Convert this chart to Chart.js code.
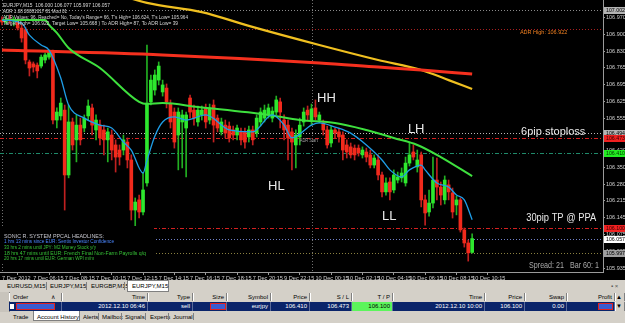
<!DOCTYPE html>
<html>
<head>
<meta charset="utf-8">
<script src="https://cdn.jsdelivr.net/npm/chart.js@4.4.1/dist/chart.umd.min.js"></script>
<style>
  body { margin: 0; width: 625px; height: 323px; overflow: hidden; background: #d4d0c8; font-family: "Liberation Sans", Arial, sans-serif; }
  #wrap { position: absolute; left: 0; top: 0; width: 625px; height: 280px; background: #000; }
  #term { position: absolute; left: 0; top: 280px; width: 625px; height: 43px; background: #d4d0c8; font-size: 6px; color: #000; }
  .t { position: absolute; white-space: nowrap; line-height: 8px; }
  .sep { position: absolute; width: 1px; background: #808080; }
  .tab { position: absolute; background: #fff; border: 1px solid #808080; }
  .hdr { position: absolute; top: 13px; height: 8px; background: #d4d0c8; border-right: 1px solid #808080; border-left: 1px solid #fff; box-sizing: border-box; }
  .cell { position: absolute; top: 22px; height: 9px; background: #0a246a; border-right: 1px solid #5a6a9a; box-sizing: border-box; color: #fff; }
  .cell span { position: absolute; right: 2px; top: 1px; line-height: 7px; }
  .hdr span { position: absolute; right: 2px; top: 0; line-height: 8px; }
  .redact { position: absolute; background: #3b5bd0; border: 1px solid #e02020; box-sizing: border-box; }
</style>
</head>
<body>
<div id="wrap"><canvas id="c" width="625" height="280"></canvas></div>
<div id="term">
  <div class="t" style="left:7px;top:2px;">EURUSD,M15</div>
  <div class="sep" style="left:46px;top:2px;height:8px;"></div>
  <div class="t" style="left:50px;top:2px;">EURJPY,M15</div>
  <div class="sep" style="left:86px;top:2px;height:8px;"></div>
  <div class="t" style="left:91px;top:2px;">EURGBP,M15</div>
  <div class="sep" style="left:124px;top:2px;height:8px;"></div>
  <div class="tab" style="left:127px;top:0;width:40px;height:10px;"></div>
  <div class="t" style="left:132px;top:2px;">EURJPY,M15</div>
  <div class="t" style="left:611px;top:2px;color:#555;">&#x25aa; &#xd7;</div>

  <div style="position:absolute;left:0;top:12px;width:9px;height:20px;background:#c8c4bc;border-right:1px solid #808080;"></div>
  <div class="hdr" style="left:9px;width:53px;"><span style="left:3px;right:auto;">Order</span><span style="right:6px;">&#x2227;</span></div>
  <div class="hdr" style="left:62px;width:86px;"><span>Time</span></div>
  <div class="hdr" style="left:148px;width:45px;"><span>Type</span></div>
  <div class="hdr" style="left:193px;width:34px;"><span>Size</span></div>
  <div class="hdr" style="left:227px;width:44px;"><span>Symbol</span></div>
  <div class="hdr" style="left:271px;width:39px;"><span>Price</span></div>
  <div class="hdr" style="left:310px;width:42px;"><span>S / L</span></div>
  <div class="hdr" style="left:352px;width:41px;"><span>T / P</span></div>
  <div class="hdr" style="left:393px;width:92px;"><span>Time</span></div>
  <div class="hdr" style="left:485px;width:40px;"><span>Price</span></div>
  <div class="hdr" style="left:525px;width:42px;"><span>Swap</span></div>
  <div class="hdr" style="left:567px;width:48px;"><span>Profit</span></div>
  <div class="hdr" style="left:615px;width:10px;background:#d4d0c8;"><span style="right:2px;">&#x25b2;</span></div>

  <div class="cell" style="left:9px;width:53px;"></div>
  <div style="position:absolute;left:10px;top:24px;width:4px;height:5px;background:#fff;"></div>
  <div class="redact" style="left:16px;top:23px;width:39px;height:7px;"></div>
  <div class="cell" style="left:62px;width:86px;"><span>2012.12.10 06:46</span></div>
  <div class="cell" style="left:148px;width:45px;"><span>sell</span></div>
  <div class="cell" style="left:193px;width:34px;"></div>
  <div class="redact" style="left:210px;top:23px;width:16px;height:7px;"></div>
  <div class="cell" style="left:227px;width:44px;"><span>eurjpy</span></div>
  <div class="cell" style="left:271px;width:39px;"><span>106.410</span></div>
  <div class="cell" style="left:310px;width:42px;"><span>106.473</span></div>
  <div class="cell" style="left:352px;width:41px;background:#5cf55c;color:#000;"><span>106.100</span></div>
  <div class="cell" style="left:393px;width:92px;"><span>2012.12.10 10:00</span></div>
  <div class="cell" style="left:485px;width:40px;"><span>106.100</span></div>
  <div class="cell" style="left:525px;width:42px;"><span>0.00</span></div>
  <div class="cell" style="left:567px;width:48px;"></div>
  <div class="redact" style="left:598px;top:23px;width:15px;height:7px;"></div>
  <div class="hdr" style="left:615px;top:22px;width:10px;height:9px;"><span style="right:2px;">&#x25bc;</span></div>

  <div class="t" style="left:13px;top:33px;">Trade</div>
  <div class="tab" style="left:33px;top:31px;width:45px;height:9px;border-top:none;"></div>
  <div class="t" style="left:37px;top:33px;">Account History</div>
  <div class="t" style="left:83px;top:33px;">Alerts</div>
  <div class="sep" style="left:98px;top:33px;height:7px;"></div>
  <div class="t" style="left:102px;top:33px;">Mailbox</div>
  <div class="sep" style="left:121px;top:33px;height:7px;"></div>
  <div class="t" style="left:125px;top:33px;">Signals</div>
  <div class="sep" style="left:145px;top:33px;height:7px;"></div>
  <div class="t" style="left:150px;top:33px;">Experts</div>
  <div class="sep" style="left:168px;top:33px;height:7px;"></div>
  <div class="t" style="left:173px;top:33px;">Journal</div>
  <div class="sep" style="left:193px;top:33px;height:7px;"></div>
</div>

<script>
// EURJPY M15 bars, oldest first
const openP = [106.960,106.952,106.964,106.956,106.952,106.927,106.919,106.787,106.779,106.774,
  106.770,106.795,106.807,106.828,106.547,106.564,106.588,106.320,106.539,106.465,
  106.526,106.514,106.564,106.597,106.506,106.526,106.506,106.465,106.485,106.444,
  106.423,106.423,106.456,106.382,106.175,106.217,106.167,106.287,106.622,106.671,
  106.712,106.663,106.679,106.613,106.580,106.485,106.539,106.514,106.638,106.588,
  106.539,106.568,106.597,106.547,106.609,106.555,106.498,106.526,106.522,106.506,
  106.485,106.498,106.498,106.477,106.506,106.493,106.539,106.555,106.568,106.555,
  106.580,106.622,106.547,106.526,106.498,106.444,106.477,106.539,106.588,106.547,
  106.597,106.547,106.535,106.506,106.452,106.506,106.498,106.485,106.444,106.436,
  106.431,106.431,106.403,106.415,106.403,106.361,106.382,106.320,106.250,106.291,
  106.258,106.299,106.308,106.287,106.369,106.415,106.353,106.403,106.217,106.167,
  106.204,106.299,106.270,106.217,106.279,106.246,106.196,106.217,106.093,106.039,
  106.000];
const highP = [106.973,106.977,106.981,106.973,106.964,106.940,106.931,106.795,106.787,106.783,
  106.816,106.824,106.836,106.836,106.597,106.638,106.609,106.609,106.555,106.568,
  106.555,106.568,106.630,106.613,106.568,106.547,106.526,106.514,106.506,106.465,
  106.444,106.485,106.473,106.403,106.225,106.237,106.328,106.857,106.733,106.754,
  106.787,106.712,106.696,106.630,106.597,106.597,106.588,106.580,106.650,106.609,
  106.605,106.605,106.613,106.613,106.630,106.568,106.555,106.547,106.539,106.522,
  106.526,106.514,106.514,106.522,106.522,106.568,106.597,106.609,106.613,106.601,
  106.646,106.638,106.568,106.547,106.514,106.506,106.555,106.597,106.605,106.613,
  106.630,106.580,106.547,106.522,106.522,106.514,106.514,106.498,106.465,106.452,
  106.444,106.444,106.436,106.431,106.423,106.403,106.403,106.332,106.308,106.308,
  106.341,106.332,106.349,106.394,106.456,106.444,106.423,106.415,106.237,106.258,
  106.394,106.390,106.291,106.316,106.299,106.266,106.233,106.225,106.101,106.051,
  106.077];
const lowP = [106.940,106.944,106.944,106.936,106.919,106.869,106.779,106.729,106.745,106.721,
  106.762,106.783,106.799,106.531,106.514,106.547,106.175,106.308,106.423,106.374,
  106.444,106.498,106.547,106.485,106.465,106.444,106.403,106.374,106.382,106.332,
  106.361,106.403,106.349,106.134,106.105,106.142,106.155,106.274,106.609,106.650,
  106.692,106.646,106.597,106.514,106.431,106.341,106.349,106.312,106.555,106.526,
  106.522,106.547,106.514,106.531,106.456,106.498,106.485,106.473,106.456,106.465,
  106.465,106.444,106.431,106.456,106.444,106.477,106.522,106.539,106.555,106.539,
  106.568,106.514,106.465,106.382,106.341,106.349,106.444,106.522,106.547,106.526,
  106.547,106.535,106.485,106.431,106.436,106.473,106.456,106.382,106.390,106.390,
  106.382,106.398,106.390,106.374,106.349,106.349,106.299,106.229,106.237,106.217,
  106.246,106.287,106.291,106.274,106.357,106.382,106.332,106.188,106.113,106.150,
  106.184,106.217,106.196,106.200,106.217,106.142,106.155,106.084,106.022,105.964,
  105.997];
const closeP = [106.952,106.964,106.956,106.960,106.927,106.886,106.795,106.762,106.766,106.750,
  106.807,106.816,106.828,106.547,106.580,106.617,106.320,106.539,106.444,106.526,
  106.465,106.555,106.605,106.526,106.547,106.473,106.465,106.498,106.423,106.394,
  106.394,106.465,106.382,106.175,106.208,106.167,106.258,106.617,106.712,106.733,
  106.770,106.692,106.622,106.539,106.456,106.580,106.568,106.568,106.580,106.555,
  106.588,106.588,106.539,106.597,106.526,106.514,106.539,106.493,106.473,106.485,
  106.514,106.465,106.456,106.506,106.465,106.555,106.580,106.588,106.597,106.584,
  106.630,106.580,106.506,106.473,106.456,106.485,106.526,106.580,106.568,106.593,
  106.560,106.568,106.506,106.444,106.506,106.493,106.477,106.423,106.415,106.403,
  106.403,106.411,106.423,106.394,106.361,106.390,106.320,106.250,106.287,106.250,
  106.320,106.312,106.328,106.369,106.403,106.394,106.382,106.217,106.163,106.204,
  106.299,106.270,106.237,106.299,106.250,106.167,106.217,106.093,106.039,105.998,
  106.057];

// moving averages, sampled at bar indices
const fastIdx = [0,5,7,10,12,15,17,21,25,28,31,33,36,37,39,41,44,47,52,58,64,69,72,74,79,81,85,89,93,97,99,102,104,107,108,111,114,116,118,120];
const fastMA = [106.960,106.948,106.898,106.857,106.836,106.721,106.609,106.555,106.526,106.514,106.456,106.423,106.328,106.380,106.480,106.539,106.560,106.547,106.568,106.506,106.498,106.568,106.526,106.473,106.526,106.535,106.518,106.493,106.444,106.382,106.341,106.312,106.341,106.361,106.341,106.287,106.270,106.237,106.217,106.135];
const midIdx = [0,11,12,14,17,25,35,37,41,50,68,76,85,93,100,106,112,120];
const midMA = [106.960,106.960,106.940,106.907,106.845,106.762,106.622,106.613,106.617,106.601,106.568,106.547,106.535,106.506,106.473,106.444,106.394,106.315];
const slowIdx = [0,41,81,96,107,120];
const slowMA = [106.836,106.816,106.783,106.766,106.754,106.737];
const longIdx = [25,37,51,63,81,96,107,114,120];
const longMA = [107.090,107.031,106.993,106.936,106.857,106.795,106.754,106.712,106.675];

// axes
const tickIdx = [0,8,16,24,32,40,48,56,64,72,80,88,96,104,112,120];
const tickLabels = ['7 Dec 2012','7 Dec 06:15','7 Dec 08:15','7 Dec 10:15','7 Dec 12:15','7 Dec 14:15','7 Dec 16:15','7 Dec 18:15','7 Dec 20:15','9 Dec 22:15','10 Dec 00:15','10 Dec 02:15','10 Dec 04:15','10 Dec 06:15','10 Dec 08:15','10 Dec 10:15'];
const priceTicks = [106.970,106.900,106.830,106.765,106.695,106.625,106.555,106.485,106.420,106.350,106.280,106.215,106.145,106.075,106.005,105.935];

// horizontal levels: day high, ADR high, stop note, S/L, entry, T/P, bid, day low
const levelPrices = [107.002,106.922,106.494,106.473,106.410,106.100,106.057,105.997];
const separatorIdx = [0,79];

// chart texts
const annoText = ['HH','HL','LH','LL','6pip stoploss','30pip TP @ PPA','ADR High: 106.922','ADR Start'];
const annoIdx = [80.4,67.9,103.6,97,132.5,133.8,132.2,76];
const annoPrice = [106.638,106.274,106.510,106.148,106.496,106.142,106.907,106.460];

const infoLines = ['EURJPY,M15  106.000 106.077 105.997 106.057','ADR 1.08 20081017 81 Mod 01',
  "ADR Values: 96, Reached= No, Today's Range= 66, T's High= 106.624, T's Low= 105.964",
  'Target High= 106.922, Target Low= 105.668 ) To ADR High= 87, To ADR Low= 39'];
const newsLines = ['SONIC R. SYSTEM PPCAL HEADLINES:','1 hrs 13 mins since EUR: Sentix Investor Confidence',
  '33 hrs 2 mins until JPY: M2 Money Stock y/y','18 hrs 47 mins until EUR: French Final Non-Farm Payrolls q/q',
  '20 hrs 17 mins until EUR: German WPI m/m'];
const statusText = 'Spread: 21   Bar 60: 1';

const BULL = '#2ee82e', BEAR = '#f22a1c';
const FONT = '"Liberation Sans", Arial, sans-serif';

const levelStyle = [
  { color: '#8a8a8a', dash: [1, 2], box: '#b4b4b4', ink: '#000' },
  { color: '#a82020', dash: [1, 2], box: null },
  { color: '#b8b8b8', dash: [1, 2], box: '#b4b4b4', ink: '#000' },
  { color: '#d42020', dash: [4, 2, 1, 2], box: '#f02020', ink: '#300' },
  { color: '#1f8a6a', dash: [4, 2, 1, 2], box: '#22ee22', ink: '#030' },
  { color: '#d42020', dash: [4, 2, 1, 2], box: '#f02020', ink: '#300' },
  { color: '#7080c8', dash: [1, 2], box: '#ffffff', ink: '#000' },
  { color: '#8a8040', dash: [1, 2], box: '#a0a0a0', ink: '#000' }
];
const annoStyle = [
  { font: '13px ' + FONT, color: '#e8e8e8' },
  { font: '13px ' + FONT, color: '#e8e8e8' },
  { font: '13px ' + FONT, color: '#e8e8e8' },
  { font: '13px ' + FONT, color: '#e8e8e8' },
  { font: '11px ' + FONT, color: '#e8e8e8', w: 69 },
  { font: '11px ' + FONT, color: '#e8e8e8', w: 70 },
  { font: '5.5px ' + FONT, color: '#f08020', w: 48 },
  { font: '5px ' + FONT, color: '#a0a0a0', w: 18 }
];

function isBull(i) { return closeP[i] >= openP[i]; }
function pts(idx, vals) { return idx.map((x, k) => ({ x, y: vals[k] })); }

const overlay = {
  id: 'mt4Overlay',
  beforeDatasetsDraw(chart) {
    const { ctx, chartArea: a, scales: { x, y } } = chart;
    ctx.save();
    ctx.lineWidth = 1;
    separatorIdx.forEach(i => {
      const px = Math.round(x.getPixelForValue(i)) + 0.5;
      ctx.strokeStyle = '#707070';
      ctx.setLineDash([1, 2]);
      ctx.beginPath(); ctx.moveTo(px, a.top); ctx.lineTo(px, a.bottom); ctx.stroke();
    });
    levelPrices.forEach((p, k) => {
      const py = Math.round(y.getPixelForValue(p)) + 0.5;
      ctx.strokeStyle = levelStyle[k].color;
      ctx.setLineDash(levelStyle[k].dash);
      ctx.beginPath(); ctx.moveTo(a.left, py); ctx.lineTo(a.right, py); ctx.stroke();
    });
    ctx.restore();
  },
  afterDatasetsDraw(chart) {
    const { ctx, scales: { x, y } } = chart;
    ctx.save();
    ctx.textBaseline = 'middle';
    ctx.textAlign = 'left';
    // news panel
    ctx.fillStyle = '#000';
    ctx.fillRect(0, 226, 154, 37);
    const newsColor = ['#c8c8d0', '#4a86ff', '#36c236', '#36c236', '#36c236'];
    const newsW = [100, 110, 92, 142, 90];
    newsLines.forEach((t, k) => {
      ctx.font = '6px ' + FONT;
      ctx.fillStyle = newsColor[k];
      ctx.fillText(t, 4, 236 + k * 5.7, newsW[k]);
    });
    // info lines
    const infoW = [107, 64, 185, 175];
    infoLines.forEach((t, k) => {
      ctx.font = '6px ' + FONT;
      ctx.fillStyle = '#d8d8d8';
      ctx.fillText(t, 3, 5.5 + k * 5.8, infoW[k]);
    });
    // text objects on chart
    annoText.forEach((t, k) => {
      const s = annoStyle[k];
      ctx.font = s.font;
      ctx.fillStyle = s.color;
      const px = x.getPixelForValue(annoIdx[k]);
      const py = y.getPixelForValue(annoPrice[k]);
      if (s.w) ctx.fillText(t, px, py, s.w); else ctx.fillText(t, px, py);
    });
    ctx.font = '8.5px ' + FONT;
    ctx.fillStyle = '#a8a8a8';
    ctx.fillText(statusText, 529, 266, 70);
    ctx.restore();
  },
  afterDraw(chart) {
    const { ctx, chartArea: a, scales: { y } } = chart;
    ctx.save();
    ctx.textBaseline = 'middle';
    ctx.textAlign = 'left';
    ctx.font = '5.5px ' + FONT;
    levelPrices.forEach((p, k) => {
      const s = levelStyle[k];
      if (!s.box) return;
      const py = Math.round(y.getPixelForValue(p));
      ctx.fillStyle = s.box;
      ctx.fillRect(a.right + 1, py - 3, 22, 7);
      ctx.fillStyle = s.ink;
      ctx.fillText(p.toFixed(3), a.right + 3, py + 0.5, 19);
    });
    ctx.restore();
  }
};

new Chart(document.getElementById('c'), {
  type: 'bar',
  data: {
    datasets: [
      { type: 'line', data: pts(fastIdx, fastMA), borderColor: '#1e9ee8', borderWidth: 1.3, pointRadius: 0, cubicInterpolationMode: 'monotone', order: 0 },
      { type: 'line', data: pts(midIdx, midMA), borderColor: '#3ee03e', borderWidth: 2, pointRadius: 0, cubicInterpolationMode: 'monotone', order: 0 },
      { type: 'line', data: pts(slowIdx, slowMA), borderColor: '#f5301e', borderWidth: 3, pointRadius: 0, cubicInterpolationMode: 'monotone', order: 0 },
      { type: 'line', data: pts(longIdx, longMA), borderColor: '#f0c020', borderWidth: 2.2, pointRadius: 0, cubicInterpolationMode: 'monotone', order: 0 },
      { data: openP.map((o, i) => ({ x: i, y: [o, closeP[i]] })), barThickness: 3, minBarLength: 1, grouped: false,
        backgroundColor: c => isBull(c.dataIndex) ? BULL : BEAR, order: 1 },
      { data: lowP.map((l, i) => ({ x: i, y: [l, highP[i]] })), barThickness: 1, grouped: false,
        backgroundColor: c => isBull(c.dataIndex) ? '#22b022' : '#c02020', order: 2 }
    ]
  },
  options: {
    responsive: false,
    animation: false,
    events: [],
    layout: { padding: 0 },
    plugins: { legend: { display: false }, tooltip: { enabled: false } },
    scales: {
      x: {
        type: 'linear', min: -0.51, max: 153.4, offset: false,
        grid: { drawOnChartArea: false, drawTicks: true, tickLength: 3, color: '#9a9a9a' },
        border: { display: true, color: '#9a9a9a' },
        afterBuildTicks: s => { s.ticks = tickIdx.map(v => ({ value: v })); },
        afterFit: s => { s.height = 8; s.paddingLeft = 0; s.paddingRight = 0; },
        ticks: { autoSkip: false, maxRotation: 0, align: 'start', padding: 0, color: '#d0d0d0',
          font: { size: 5.6, family: FONT }, callback: (v, i) => tickLabels[i] }
      },
      y: {
        position: 'right', min: 105.919, max: 107.043,
        grid: { drawOnChartArea: false, drawTicks: true, tickLength: 2, color: '#9a9a9a' },
        border: { display: true, color: '#9a9a9a' },
        afterBuildTicks: s => { s.ticks = priceTicks.map(v => ({ value: v })); },
        afterFit: s => { s.width = 22; s.paddingTop = 0; s.paddingBottom = 0; },
        ticks: { autoSkip: false, padding: 1, color: '#d0d0d0', font: { size: 5.5, family: FONT },
          callback: v => v.toFixed(3) }
      }
    }
  },
  plugins: [overlay]
});
</script>
</body>
</html>
